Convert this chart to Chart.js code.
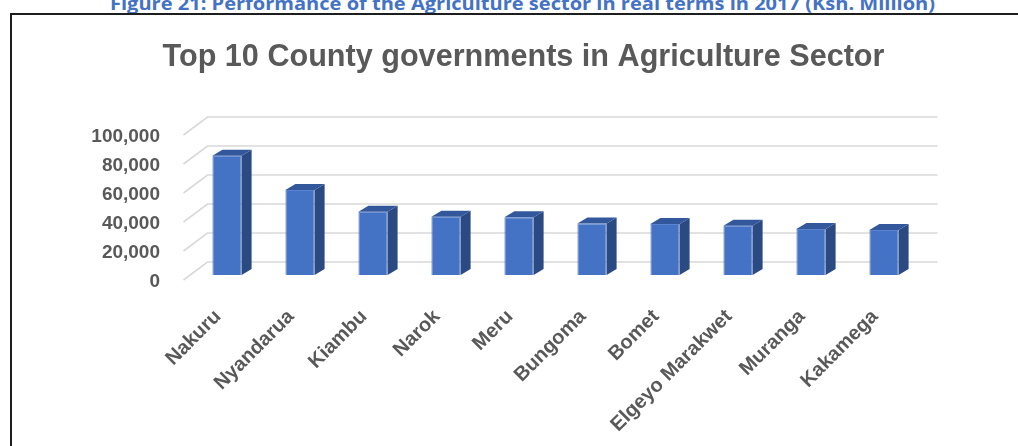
<!DOCTYPE html>
<html><head><meta charset="utf-8">
<script src="https://cdn.jsdelivr.net/npm/chart.js@4.4.0/dist/chart.umd.min.js"></script>
<style>
html,body{margin:0;padding:0;background:#fff;width:1018px;height:446px;overflow:hidden;}
#cap{position:absolute;left:110px;top:-5px;font:bold 17px 'Open Sans',sans-serif;color:#4472C4;white-space:nowrap;line-height:17px;transform-origin:0 0;}
#box{position:absolute;left:10px;top:13px;width:1030px;height:450px;border-left:2px solid #1e1e1e;border-top:2px solid #1e1e1e;}
#wrap{position:absolute;left:0;top:0;width:1018px;height:446px;}
</style></head>
<body>
<div id="cap">Figure 21: Performance of the Agriculture sector in real terms in 2017 (Ksh. Million)</div>
<div id="box"></div>
<div id="wrap"><canvas id="c"></canvas></div>
<script>
const counties = ['Nakuru','Nyandarua','Kiambu','Narok','Meru','Bungoma','Bomet','Elgeyo Marakwet','Muranga','Kakamega'];
const values = [82300, 58600, 43700, 40200, 39800, 35600, 35200, 34000, 31700, 31000];
const yMin = 0, yMax = 100000, yStep = 20000;
const titleText = 'Top 10 County governments in Agriculture Sector';

// caption width fit
const cap = document.getElementById('cap');
cap.style.transform = 'scaleX(' + (825 / cap.offsetWidth) + ')';

// title size fitted to the reference width
const TITLE_FAMILY = "'Liberation Sans', Arial, sans-serif";
const mctx = document.createElement('canvas').getContext('2d');
mctx.font = 'bold 36px ' + TITLE_FAMILY;
const titleSize = Math.round(36 * 721 / mctx.measureText(titleText).width * 10) / 10;
const titleCenterY = 57.7;
const titleBlockH = titleSize * 1.2;
const titlePadTop = titleCenterY - titleBlockH / 2;
const titlePadBottom = 130 - titlePadTop - titleBlockH;

const FRONT_X = 7, FRONT_Y = 5, BACK_X = 17, BACK_Y = 13, BAR_DX = 10, BAR_DY = 6;
const TITLE_CENTER_X = 523.5;
const grid3d = {
  id: 'grid3d',
  afterLayout(chart) {
    const tb = chart.titleBlock;
    if (tb) { tb.left = 2 * TITLE_CENTER_X - tb.right; tb.width = tb.right - tb.left; }
  },
  beforeDatasetsDraw(chart) {
    const {ctx, chartArea, scales: {y}} = chart;
    ctx.save();
    ctx.strokeStyle = '#d9d9d9';
    ctx.lineWidth = 1.6;
    y.ticks.forEach(t => {
      const py = y.getPixelForValue(t.value);
      ctx.beginPath();
      ctx.moveTo(chartArea.left - FRONT_X, py + FRONT_Y);
      ctx.lineTo(chartArea.left + BACK_X, py - BACK_Y);
      ctx.lineTo(chartArea.right + BACK_X, py - BACK_Y);
      ctx.stroke();
    });
    ctx.restore();
  },
  afterDatasetsDraw(chart) {
    const ctx = chart.ctx;
    const meta = chart.getDatasetMeta(0);
    ctx.save();
    meta.data.forEach(bar => {
      const {x, y, base, width} = bar.getProps(['x', 'y', 'base', 'width'], true);
      const l = x - width / 2, r = x + width / 2;
      ctx.fillStyle = '#2C4A82';
      ctx.beginPath();
      ctx.moveTo(r, y); ctx.lineTo(r + BAR_DX, y - BAR_DY);
      ctx.lineTo(r + BAR_DX, base - BAR_DY); ctx.lineTo(r, base);
      ctx.closePath(); ctx.fill();
      ctx.fillStyle = '#33579B';
      ctx.beginPath();
      ctx.moveTo(l, y); ctx.lineTo(l + BAR_DX, y - BAR_DY);
      ctx.lineTo(r + BAR_DX, y - BAR_DY); ctx.lineTo(r, y);
      ctx.closePath(); ctx.fill();
    });
    ctx.restore();
  }
};

new Chart(document.getElementById('c'), {
  type: 'bar',
  data: {
    labels: counties,
    datasets: [{
      data: values,
      backgroundColor: '#4472C4',
      borderColor: '#5B84CE',
      borderWidth: 1,
      categoryPercentage: 1,
      barPercentage: 0.4
    }]
  },
  options: {
    responsive: true,
    maintainAspectRatio: false,
    animation: false,
    layout: {padding: {left: 80, right: 97.5, top: 0, bottom: 0}},
    plugins: {
      legend: {display: false},
      tooltip: {enabled: false},
      title: {
        display: true,
        text: titleText,
        color: '#595959',
        font: {family: TITLE_FAMILY, size: titleSize, weight: 'bold'},
        padding: {top: titlePadTop, bottom: titlePadBottom}
      }
    },
    scales: {
      x: {
        grid: {display: false, drawTicks: false},
        border: {display: false},
        ticks: {
          color: '#595959', font: {family: "'Liberation Sans', Arial, sans-serif", size: 20, weight: 'bold'},
          minRotation: 45, maxRotation: 45, autoSkip: false,
          padding: 30, labelOffset: -9
        },
        afterFit(s) { s.height = 171; }
      },
      y: {
        min: yMin, max: yMax,
        grid: {display: false, drawTicks: false},
        border: {display: false},
        ticks: {
          stepSize: yStep,
          color: '#595959', font: {family: "'Liberation Sans', Arial, sans-serif", size: 19, weight: 'bold'},
          padding: 30.5, labelOffset: 7,
          callback: v => v.toLocaleString('en-US')
        },
        afterFit(s) { s.width = 110.5; }
      }
    }
  },
  plugins: [grid3d]
});
</script>
</body></html>
